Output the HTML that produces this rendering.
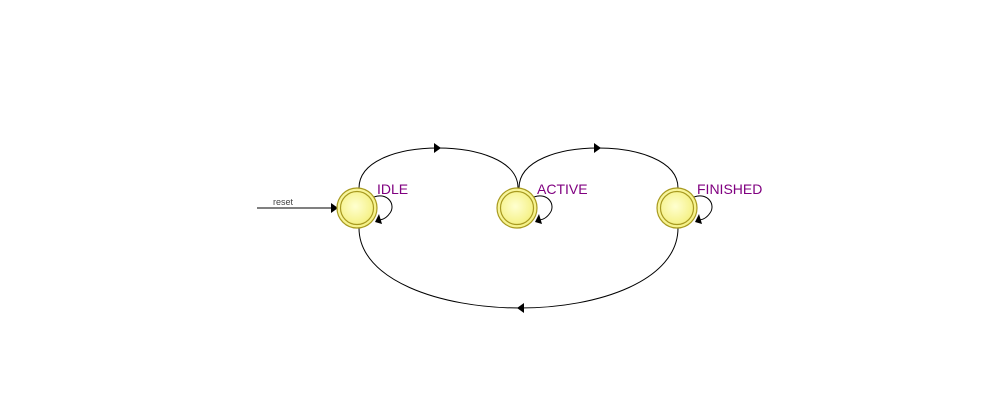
<!DOCTYPE html>
<html><head><meta charset="utf-8"><style>html,body{margin:0;padding:0;background:#fff;}svg{display:block}</style></head>
<body>
<svg width="1000" height="416" viewBox="0 0 1000 416" xmlns="http://www.w3.org/2000/svg">
<defs>
<radialGradient id="g" cx="0.45" cy="0.45" r="0.6">
<stop offset="0" stop-color="#ffffd0"/><stop offset="1" stop-color="#f4f080"/>
</radialGradient>
</defs>
<g fill="none" stroke="#000" stroke-width="1">
<line x1="257" y1="208" x2="334" y2="208"/>
<path d="M359,188 C359,160 400,148 438,148 C476,148 518,160 518,188"/>
<path d="M519,188 C519,160 560,148 598,148 C636,148 678,160 678,188"/>
<path d="M359,228 C359,280 440,308 520,308 C600,308 678,280 678,228"/>
<path d="M374,197 C388,192 396,205 390,213 C386,219 381,220 378,220"/>
<path d="M534,197 C548,192 556,205 550,213 C546,219 541,220 538,220"/>
<path d="M694,197 C708,192 716,205 710,213 C706,219 701,220 698,220"/>
</g>
<g fill="#000">
<polygon points="338,208 331,203 331,213"/>
<polygon points="441,148 434,143 434,153"/>
<polygon points="601,148 594,143 594,153"/>
<polygon points="517,308 524,303 524,313"/>
<polygon points="375,222 379,214 382,224"/>
<polygon points="535,222 539,214 542,224"/>
<polygon points="695,222 699,214 702,224"/>
</g>
<g stroke="#a89a20" stroke-width="1.2" fill="url(#g)">
<circle cx="357" cy="208" r="20"/><circle cx="357" cy="208" r="16.5"/>
<circle cx="517" cy="208" r="20"/><circle cx="517" cy="208" r="16.5"/>
<circle cx="677" cy="208" r="20"/><circle cx="677" cy="208" r="16.5"/>
</g>
<g font-family="Liberation Sans, sans-serif" fill="#800080" font-size="14">
<text x="377" y="194">IDLE</text>
<text x="537" y="194">ACTIVE</text>
<text x="697" y="194">FINISHED</text>
</g>
<text x="273" y="205" font-family="Liberation Sans, sans-serif" font-size="9" fill="#444">reset</text>
</svg>
</body></html>
